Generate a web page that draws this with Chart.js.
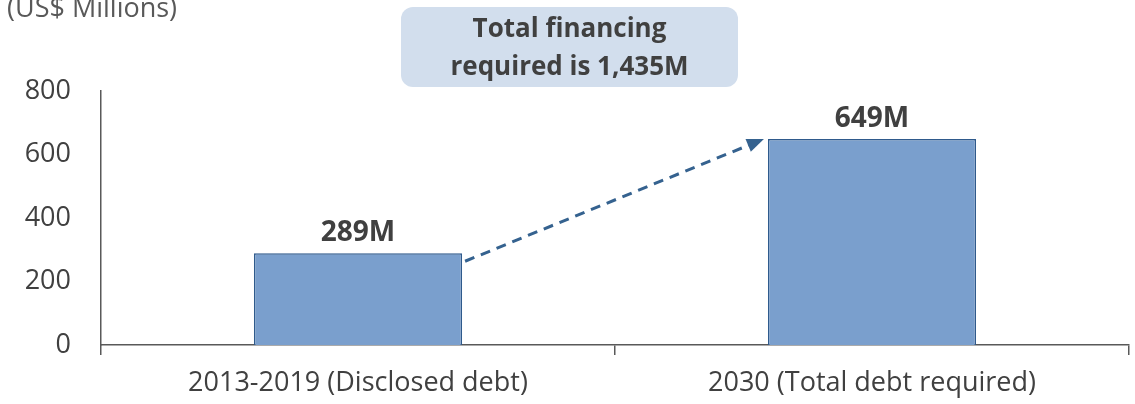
<!DOCTYPE html>
<html>
<head>
<meta charset="utf-8">
<script src="https://cdn.jsdelivr.net/npm/chart.js@4"></script>
<style>
  html, body { margin: 0; padding: 0; background: #fff; }
  #wrap { width: 1135px; height: 404px; position: relative; }
</style>
</head>
<body>
<div id="wrap"><canvas id="canvas-chart" width="1135" height="404"></canvas></div>
<script>
const categories = ['2013-2019 (Disclosed debt)', '2030 (Total debt required)'];
const debtValues = [289, 649];
const valueLabels = ['289M', '649M'];
const yTicks = [0, 200, 400, 600, 800];
const unitLabel = '(US$ Millions)';
const calloutLines = ['Total financing', 'required is 1,435M'];

const FONT = '"Open Sans", "Noto Sans", sans-serif';

const extras = {
  id: 'extras',
  afterDatasetsDraw(chart) {
    const c = chart.ctx;
    const meta = chart.getDatasetMeta(0);
    const b1 = meta.data[0], b2 = meta.data[1];

    // value labels
    c.save();
    c.fillStyle = '#404040';
    c.font = 'bold 28px ' + FONT;
    c.textAlign = 'center';
    c.textBaseline = 'alphabetic';
    meta.data.forEach((bar, i) => {
      c.fillText(valueLabels[i], bar.x, bar.y - 12);
    });
    c.restore();

    // dashed arrow
    const x1 = b1.x + b1.width / 2 + 3, y1 = b1.y + 8;
    const x2 = b2.x - b2.width / 2 - 4, y2 = b2.y;
    const ang = Math.atan2(y2 - y1, x2 - x1);
    c.save();
    c.strokeStyle = '#35628f';
    c.fillStyle = '#35628f';
    c.lineWidth = 3;
    c.setLineDash([10, 7]);
    c.beginPath();
    c.moveTo(x1, y1);
    c.lineTo(x2 - 14 * Math.cos(ang), y2 - 14 * Math.sin(ang));
    c.stroke();
    c.setLineDash([]);
    c.beginPath();
    c.moveTo(x2, y2);
    c.lineTo(x2 - 17 * Math.cos(ang) + 7 * Math.sin(ang), y2 - 17 * Math.sin(ang) - 7 * Math.cos(ang));
    c.lineTo(x2 - 17 * Math.cos(ang) - 7 * Math.sin(ang), y2 - 17 * Math.sin(ang) + 7 * Math.cos(ang));
    c.closePath();
    c.fill();
    c.restore();

    // unit label
    c.save();
    c.fillStyle = '#595959';
    c.font = '27px ' + FONT;
    c.textAlign = 'left';
    c.textBaseline = 'alphabetic';
    c.fillText(unitLabel, 7, 17);
    c.restore();

    // callout box
    const bx = 401, by = 7, bw = 337, bh = 80, r = 12;
    c.save();
    c.fillStyle = '#d2deed';
    c.beginPath();
    c.roundRect(bx, by, bw, bh, r);
    c.fill();
    c.fillStyle = '#404040';
    c.font = 'bold 26px ' + FONT;
    c.textAlign = 'center';
    c.textBaseline = 'middle';
    c.fillText(calloutLines[0], bx + bw / 2, 30);
    c.fillText(calloutLines[1], bx + bw / 2, 68);
    c.restore();
  }
};

const ctx = document.getElementById('canvas-chart');

new Chart(ctx, {
  type: 'bar',
  data: {
    labels: categories,
    datasets: [{
      data: debtValues,
      backgroundColor: '#7a9fcd',
      borderColor: '#2f5a8c',
      borderWidth: 1.5,
      categoryPercentage: 0.81,
      barPercentage: 0.5
    }]
  },
  options: {
    responsive: false,
    animation: false,
    events: [],
    layout: { padding: { top: 91, right: 6, left: 0, bottom: 0 } },
    plugins: { legend: { display: false }, tooltip: { enabled: false } },
    scales: {
      x: {
        grid: { display: true, drawOnChartArea: false, drawTicks: true, tickLength: 10, color: '#595959', lineWidth: 1.5 },
        border: { display: true, color: '#595959', width: 1.5 },
        ticks: { color: '#404040', padding: 12, font: { family: FONT, size: 27 } },
        afterFit(s) { s.height = 59; }
      },
      y: {
        min: 0,
        max: 800,
        afterBuildTicks(s) { s.ticks = yTicks.map(v => ({ value: v })); },
        grid: { display: false },
        border: { display: true, color: '#595959', width: 1.5 },
        ticks: { color: '#404040', padding: 22, font: { family: FONT, size: 27 } },
        afterFit(s) { s.width = 101; }
      }
    }
  },
  plugins: [extras]
});
</script>
</body>
</html>
